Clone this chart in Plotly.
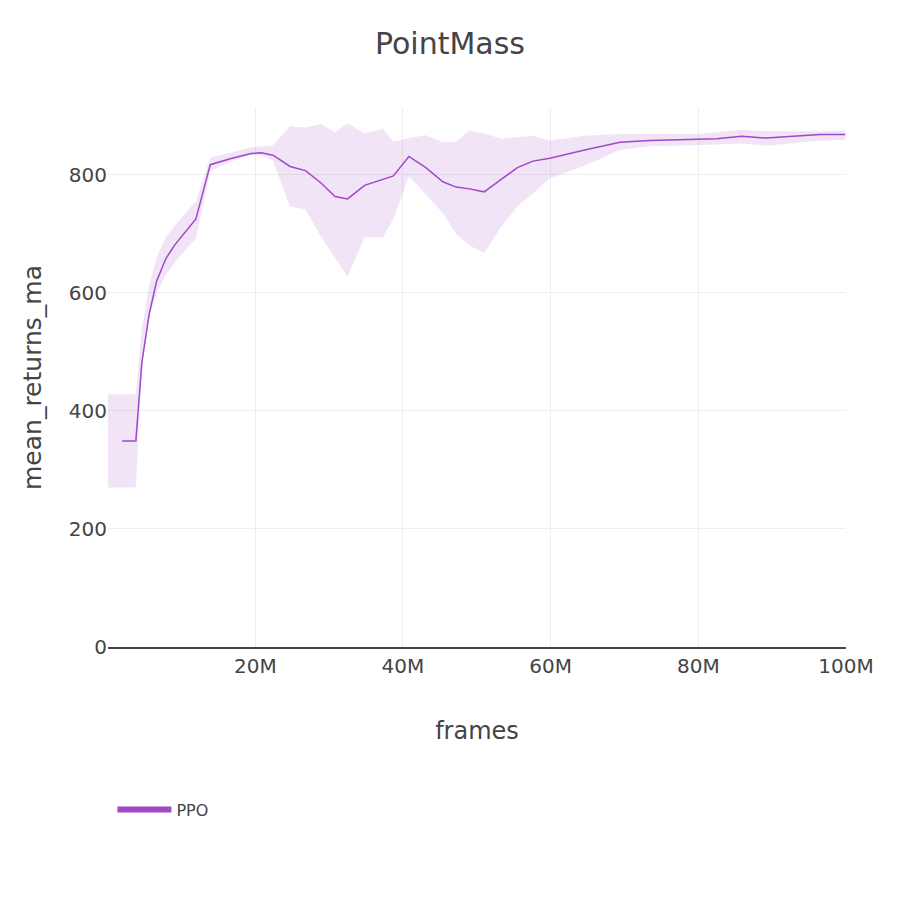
import plotly.graph_objects as go

# line (mean) data, frames in millions
frames_m = [1.97, 3.82, 4.64, 5.63, 6.62, 7.89, 9.15, 10.5, 11.96, 13.9, 16.6, 19.4, 20.8, 22.4,
            24.7, 26.8, 28.9, 30.8, 32.5, 34.8, 37.3, 38.7, 40.8, 43.1, 45.4, 47.2, 49.0, 51.0,
            53.3, 55.5, 57.6, 59.9, 64.6, 69.4, 73.4, 79.8, 82.5, 85.9, 89.2, 96.5, 99.9]
mean_returns = [349, 349, 482, 564, 619, 658, 682, 703, 725, 817, 827, 836, 837, 833,
                814, 807, 786, 763, 759, 782, 792, 798, 831, 812, 788, 779, 776, 771,
                792, 812, 823, 828, 842, 855, 858, 860, 861, 865, 862, 868, 868]

# envelope data
band_frames_m = [0.05, 3.82, 4.64, 5.63, 6.62, 7.89, 9.15, 10.5, 11.96, 13.9, 16.6, 19.4, 20.8, 22.4,
                 24.7, 26.8, 28.9, 30.8, 32.5, 34.8, 37.3, 38.7, 40.8, 43.1, 45.4, 47.2, 49.0, 51.0,
                 53.3, 55.5, 57.6, 59.9, 64.6, 69.4, 73.4, 79.8, 82.5, 85.9, 89.2, 96.5, 99.9]
upper = [428, 428, 540, 612, 660, 694, 715, 735, 755, 829, 838, 846, 848, 850,
         882, 880, 886, 872, 887, 870, 878, 856, 862, 867, 855, 856, 875, 870,
         861, 864, 866, 858, 866, 869, 869, 869, 872, 876, 874, 873, 875]
lower = [270, 270, 480, 560, 600, 630, 652, 672, 691, 806, 822, 834, 833, 824,
         746, 741, 695, 660, 627, 694, 694, 725, 798, 766, 735, 700, 680, 668,
         712, 746, 768, 794, 815, 842, 848, 850, 851, 853, 849, 858, 859]

LINE = "rgb(160, 72, 200)"
FILL = "rgba(160, 72, 200, 0.15)"

bx = [v * 1e6 for v in band_frames_m]
lx = [v * 1e6 for v in frames_m]

fig = go.Figure()
fig.add_trace(go.Scatter(x=bx, y=lower, mode="lines", line=dict(width=0, color=FILL),
                         showlegend=False, hoverinfo="skip"))
fig.add_trace(go.Scatter(x=bx, y=upper, mode="lines", line=dict(width=0, color=FILL),
                         fill="tonexty", fillcolor=FILL, showlegend=False, hoverinfo="skip"))
fig.add_trace(go.Scatter(x=lx, y=mean_returns, mode="lines", line=dict(width=1.5, color=LINE),
                         name="PPO", showlegend=False))
fig.add_trace(go.Scatter(x=[None], y=[None], mode="lines", line=dict(width=6, color=LINE),
                         name="PPO", showlegend=True))

fig.update_layout(
    width=884, height=900,
    paper_bgcolor="white", plot_bgcolor="white",
    font=dict(family="Verdana, 'DejaVu Sans', sans-serif", color="#444"),
    title=dict(text="PointMass", x=0.5, xanchor="center", y=0.961, yanchor="middle",
               font=dict(size=30)),
    margin=dict(l=100, r=46, t=100, b=261),
    xaxis=dict(title=dict(text="frames", font=dict(size=24), standoff=45), range=[bx[0], 1e8],
               tickvals=[2e7, 4e7, 6e7, 8e7, 1e8], ticktext=["20M", "40M", "60M", "80M", "100M"],
               tickfont=dict(size=20), showgrid=True, gridcolor="#eee", zeroline=False,
               showline=True, linecolor="#444", linewidth=2, ticks=""),
    yaxis=dict(title=dict(text="mean_returns_ma", font=dict(size=25), standoff=20), range=[0, 913],
               tickvals=[0, 200, 400, 600, 800], tickfont=dict(size=20),
               showgrid=True, gridcolor="#eee", zeroline=False, ticks=""),
    legend=dict(orientation="h", x=0.006, xanchor="left", y=-0.27, yanchor="top",
                font=dict(size=16), itemwidth=54),
)
fig.write_html("out.html")
